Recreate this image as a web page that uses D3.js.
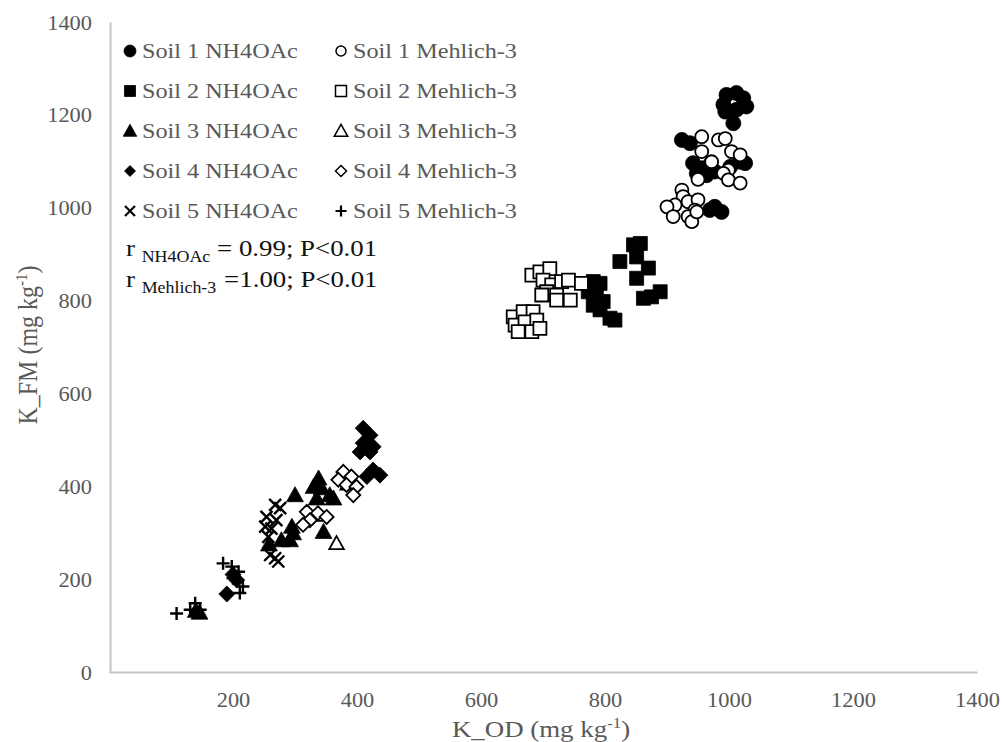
<!DOCTYPE html>
<html><head><meta charset="utf-8">
<script src="https://cdn.jsdelivr.net/npm/d3@7"></script>
<style>html,body{margin:0;padding:0;background:#fff;}svg{display:block;}</style>
</head><body>
<svg id="c" width="1002" height="742"></svg>
<script>
// ---- data (mg/kg) ----
const xTicks = [200, 400, 600, 800, 1000, 1200, 1400];
const yTicks = [0, 200, 400, 600, 800, 1000, 1200, 1400];
const legendLabels = ["Soil 1 NH4OAc","Soil 1 Mehlich-3","Soil 2 NH4OAc","Soil 2 Mehlich-3","Soil 3 NH4OAc","Soil 3 Mehlich-3","Soil 4 NH4OAc","Soil 4 Mehlich-3","Soil 5 NH4OAc","Soil 5 Mehlich-3"];

const soil1NH4 = [[996,1243],[1012,1247],[1023,1236],[991,1222],[1028,1218],[994,1207],[1012,1211],[1007,1182],
  [924,1146],[937,1139],[942,1096],[956,1085],[969,1092],[948,1074],[964,1070],[977,1078],
  [1018,1099],[1026,1096],[1002,1088],[977,1002],[988,991],[969,995]];
const soil1M3 = [[956,1153],[983,1146],[994,1149],[956,1121],[972,1099],[1004,1121],[1018,1114],[999,1081],
  [991,1074],[999,1060],[1018,1053],[950,1061],[924,1038],[926,1024],[913,1006],[900,1002],[910,981],
  [934,1013],[950,1017],[945,995],[934,981],[940,970],[948,991]];
const soil2NH4 = [[781,841],[792,837],[773,819],[786,808],[797,798],[781,790],[792,780],[808,762],[816,758],
  [824,884],[846,920],[857,923],[851,894],[870,870],[851,848],[862,805],[875,808],[889,819]];
const soil2M3 = [[682,855],[695,862],[711,869],[700,844],[714,834],[730,841],[741,844],[762,837],[706,819],
  [722,812],[698,812],[722,801],[744,801],[652,765],[668,776],[684,776],[655,747],[671,754],[690,758],
  [660,733],[682,733],[695,740]];
const soil3NH4 = [[300,381],[338,417],[330,399],[343,396],[356,381],[362,374],[335,374],[346,302],[295,313],
  [297,299],[292,284],[278,284],[258,275],[140,132],[146,128]];
const soil3M3 = [[367,277],[338,338],[385,405]];
const soil4NH4 = [[410,525],[421,510],[410,493],[426,485],[405,474],[421,474],[426,435],[437,424],[416,421],
  [190,168],[200,210],[206,198]];
const soil4M3 = [[378,431],[391,421],[370,414],[383,403],[399,399],[394,381],[319,345],[337,342],[324,327],
  [351,334],[313,317]];
const soil5NH4 = [[268,360],[276,353],[254,334],[270,327],[252,313],[262,309],[257,291],[268,245],[273,238],[260,252]];
const soil5M3 = [[109,126],[139,148],[184,234],[198,227],[209,216],[200,202],[216,184],[211,170],[147,134],[131,134]];

// ---- layout ----
const svg = d3.select("#c");
const x = d3.scaleLinear().domain([0, 1400]).range([109, 977]);
const y = d3.scaleLinear().domain([0, 1400]).range([672, 22]);
const SX = 1.12; // horizontal stretch of the original text
const FONT = "'Liberation Serif','Times New Roman',serif";

// custom marker shapes
const triType = {draw(c, size){ const s=Math.sqrt(size); c.moveTo(0,-s*0.56); c.lineTo(s*0.56,s*0.44); c.lineTo(-s*0.56,s*0.44); c.closePath(); }};
const diaType = {draw(c, size){ const h=Math.sqrt(size)/2; c.moveTo(0,-h); c.lineTo(h,0); c.lineTo(0,h); c.lineTo(-h,0); c.closePath(); }};
const timesType = {draw(c, size){ const h=Math.sqrt(size)/2; c.moveTo(-h,-h); c.lineTo(h,h); c.moveTo(h,-h); c.lineTo(-h,h); }};
const plusType = {draw(c, size){ const h=Math.sqrt(size)/2; c.moveTo(-h,0); c.lineTo(h,0); c.moveTo(0,-h); c.lineTo(0,h); }};
const circType = {draw(c, size){ const r=Math.sqrt(size)/2; c.moveTo(r,0); c.arc(0,0,r,0,2*Math.PI); }};
const sqType = {draw(c, size){ const h=Math.sqrt(size)/2; c.rect(-h,-h,2*h,2*h); }};

const series = [
  {data: soil1NH4, type: circType, style: "filled", s: 15, ls: 12},
  {data: soil1M3,  type: circType, style: "open",   s: 13, ls: 10},
  {data: soil2NH4, type: sqType,   style: "filled", s: 14, ls: 11},
  {data: soil2M3,  type: sqType,   style: "open",   s: 13, ls: 11},
  {data: soil3NH4, type: triType,  style: "filled", s: 15, ls: 12},
  {data: soil3M3,  type: triType,  style: "open",   s: 13, ls: 12},
  {data: soil4NH4, type: diaType,  style: "filled", s: 16, ls: 11},
  {data: soil4M3,  type: diaType,  style: "open",   s: 14, ls: 11},
  {data: soil5NH4, type: timesType,style: "line",   s: 12, ls: 10},
  {data: soil5M3,  type: plusType, style: "line",   s: 13, ls: 11}
];

function styleMark(sel, st){
  if (st === "filled") sel.attr("fill", "#000").attr("stroke", "#000").attr("stroke-width", 0.8);
  else if (st === "open") sel.attr("fill", "#fff").attr("stroke", "#000").attr("stroke-width", 1.8);
  else sel.attr("fill", "none").attr("stroke", "#000").attr("stroke-width", 2.4);
}

// axes
const fmt = d3.format("d");
const xAxis = svg.append("g").attr("transform", `translate(0,${y(0)})`)
  .call(d3.axisBottom(x).tickValues(xTicks).tickFormat(fmt).tickSize(0).tickSizeOuter(0));
const yAxis = svg.append("g").attr("transform", `translate(${x(0)+1},0)`)
  .call(d3.axisLeft(y).tickValues(yTicks).tickFormat(fmt).tickSize(0).tickSizeOuter(0));
[xAxis, yAxis].forEach(a => {
  a.select(".domain").attr("stroke", "#c4c4c4").attr("stroke-width", 2);
  a.selectAll("text").attr("font-family", FONT).attr("font-size", 20).attr("fill", "#595959");
});
xAxis.selectAll(".tick text").attr("y", 0).attr("dy", null).attr("transform", `translate(0,35) scale(${SX},1)`);
yAxis.selectAll(".tick text").attr("x", 0).attr("dy", null).attr("text-anchor", "end")
  .attr("transform", `translate(-18,7) scale(${SX},1)`);

// points
const plot = svg.append("g");
series.forEach(sr => {
  const sym = d3.symbol().type(sr.type).size(sr.s * sr.s);
  plot.append("g").selectAll("path").data(sr.data).join("path")
    .attr("d", sym)
    .attr("transform", d => `translate(${x(d[0])},${y(d[1])})`)
    .call(styleMark, sr.style);
});

// legend
const leg = svg.append("g");
series.forEach((sr, i) => {
  const col = i % 2, row = Math.floor(i / 2);
  const mx = col === 0 ? 130 : 341;
  const ty = 58 + row * 40;
  const sym = d3.symbol().type(sr.type).size(sr.ls * sr.ls);
  leg.append("path").attr("d", sym).attr("transform", `translate(${mx},${ty - 7})`)
    .call(styleMark, sr.style)
    .attr("stroke-width", sr.style === "open" ? 1.5 : (sr.style === "line" ? 2.2 : 0.8));
  leg.append("text").attr("transform", `translate(${mx + 12},${ty}) scale(1.1,1)`)
    .attr("font-family", FONT).attr("font-size", 22).attr("fill", "#595959")
    .text(legendLabels[i]);
});

// correlation text
const rt1 = svg.append("text").attr("transform", `translate(126,256) scale(${SX},1)`)
  .attr("font-family", FONT).attr("font-size", 24).attr("fill", "#111");
rt1.append("tspan").text("r ");
rt1.append("tspan").attr("font-size", 16).attr("dy", 6).text("NH4OAc");
rt1.append("tspan").attr("dy", -6).text(" = 0.99; P<0.01");
const rt2 = svg.append("text").attr("transform", `translate(126,287) scale(${SX},1)`)
  .attr("font-family", FONT).attr("font-size", 24).attr("fill", "#111");
rt2.append("tspan").text("r ");
rt2.append("tspan").attr("font-size", 16).attr("dy", 6).text("Mehlich-3");
rt2.append("tspan").attr("dy", -6).attr("dx", 7).text("=1.00; P<0.01");

// axis titles
const xt = svg.append("text").attr("transform", `translate(541,737) scale(${SX},1)`)
  .attr("text-anchor", "middle").attr("font-family", FONT).attr("font-size", 24).attr("fill", "#595959");
xt.append("tspan").text("K_OD (mg kg");
xt.append("tspan").attr("font-size", 15).attr("dy", -9).text("-1");
xt.append("tspan").attr("dy", 9).text(")");

const yt = svg.append("text").attr("transform", `translate(37,345) rotate(-90) scale(1,${SX})`)
  .attr("text-anchor", "middle").attr("font-family", FONT).attr("font-size", 24).attr("fill", "#595959");
yt.append("tspan").text("K_FM (mg kg");
yt.append("tspan").attr("font-size", 15).attr("dy", -9).text("-1");
yt.append("tspan").attr("dy", 9).text(")");
</script>
</body></html>
